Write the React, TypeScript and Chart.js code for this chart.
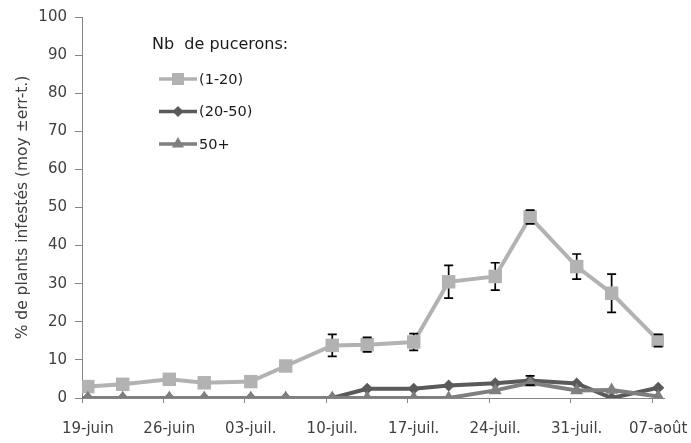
import React, { useEffect, useRef } from "react";
import { Chart, registerables } from "chart.js";

Chart.register(...registerables);

// Days counted from 19 June; sampling dates alternate 3- and 4-day gaps.
const sampleDays = [0, 3, 7, 10, 14, 17, 21, 24, 28, 31, 35, 38, 42, 45, 49];
const weekTickDays = [0, 7, 14, 21, 28, 35, 42, 49];
const weekTickLabels = ["19-juin", "26-juin", "03-juil.", "10-juil.", "17-juil.", "24-juil.", "31-juil.", "07-août"];

const seriesNames = ["(1-20)", "(20-50)", "50+"];
const pct1to20 = [3.0, 3.6, 4.9, 4.0, 4.3, 8.4, 13.8, 14.0, 14.7, 30.5, 31.9, 47.5, 34.5, 27.5, 15.1];
const err1to20 = [0, 0, 0, 0, 0, 0, 2.9, 1.9, 2.2, 4.3, 3.6, 1.8, 3.3, 5.0, 1.6];
const pct20to50 = [0, 0, 0, 0, 0, 0, 0, 2.4, 2.4, 3.3, 3.9, 4.6, 3.8, 0, 2.7];
const err20to50 = [0, 0, 0, 0, 0, 0, 0, 0, 0, 0, 0, 1.2, 0, 0, 0];
const pct50plus = [0, 0, 0, 0, 0, 0, 0, 0, 0, 0, 2.0, 4.0, 2.0, 2.1, 0.4];

const legendTitle = "Nb  de pucerons:";
const yTitle = "% de plants infestés (moy ±err-t.)";

const FONT = "'DejaVu Sans', sans-serif";
const AXIS_GREY = "#868686";
const TEXT_GREY = "#404040";

const colors = ["#b2b2b2", "#5a5a5a", "#7f7f7f"];

function toPoints(values: number[]) {
  return values.map((v, i) => ({ x: sampleDays[i], y: v }));
}

function markerPath(ctx: CanvasRenderingContext2D, style: string, x: number, y: number, r: number) {
  ctx.beginPath();
  if (style === "rect") {
    const s = r * Math.SQRT1_2;
    ctx.rect(x - s, y - s, 2 * s, 2 * s);
  } else if (style === "rectRot") {
    ctx.moveTo(x, y - r);
    ctx.lineTo(x + r, y);
    ctx.lineTo(x, y + r);
    ctx.lineTo(x - r, y);
    ctx.closePath();
  } else {
    const h = r * Math.sqrt(3) / 2;
    ctx.moveTo(x, y - r);
    ctx.lineTo(x + h, y + r / 2);
    ctx.lineTo(x - h, y + r / 2);
    ctx.closePath();
  }
}

// Vertical standard-error whiskers with caps, drawn around each marker.
const errorBarPlugin = {
  id: "errorBars",
  afterDatasetsDraw(chart: any) {
    const { ctx, scales } = chart;
    const ys = scales.y;
    chart.data.datasets.forEach((ds: any, di: number) => {
      if (!ds.errors) return;
      const meta = chart.getDatasetMeta(di);
      const gap = ds.markerHalf || 0;
      ctx.save();
      ctx.strokeStyle = "#000";
      ctx.lineWidth = 1.7;
      meta.data.forEach((pt: any, i: number) => {
        const e = ds.errors[i];
        if (!e) return;
        const v = ds.data[i].y;
        const x = pt.x;
        const yc = ys.getPixelForValue(v);
        const yt = ys.getPixelForValue(v + e);
        const yb = ys.getPixelForValue(Math.max(0, v - e));
        ctx.beginPath();
        if (yt < yc - gap) {
          ctx.moveTo(x, yt);
          ctx.lineTo(x, yc - gap);
        }
        if (yb > yc + gap) {
          ctx.moveTo(x, yc + gap);
          ctx.lineTo(x, yb);
        }
        ctx.moveTo(x - 4.5, yt);
        ctx.lineTo(x + 4.5, yt);
        ctx.moveTo(x - 4.5, yb);
        ctx.lineTo(x + 4.5, yb);
        ctx.stroke();
      });
      ctx.restore();
    });
  },
};

// Legend in the upper-left of the plot: title, then line-and-marker samples.
const legendPlugin = {
  id: "insetLegend",
  afterDraw(chart: any) {
    const { ctx, chartArea } = chart;
    const x0 = chartArea.left + 70;
    const y0 = chartArea.top + 28;
    ctx.save();
    ctx.fillStyle = "#1a1a1a";
    ctx.font = `16px ${FONT}`;
    ctx.textBaseline = "middle";
    ctx.textAlign = "left";
    ctx.fillText(legendTitle, x0, y0);
    chart.data.datasets.forEach((ds: any, i: number) => {
      const y = y0 + 34 + i * 32.5;
      const lx = x0 + 7;
      ctx.strokeStyle = ds.borderColor;
      ctx.lineWidth = 3.5;
      ctx.beginPath();
      ctx.moveTo(lx, y);
      ctx.lineTo(lx + 38, y);
      ctx.stroke();
      ctx.fillStyle = ds.borderColor;
      markerPath(ctx, ds.pointStyle, lx + 19, y, ds.legendRadius);
      ctx.fill();
      ctx.fillStyle = "#1a1a1a";
      ctx.font = `14.5px ${FONT}`;
      ctx.fillText(ds.label, lx + 40, y + 1);
    });
    ctx.restore();
  },
};

export default function App() {
  const canvasRef = useRef<HTMLCanvasElement | null>(null);

  useEffect(() => {
    document.body.style.margin = "0";
    const canvas = canvasRef.current;
    if (!canvas) return;

    const chart = new Chart(canvas, {
      type: "line",
      data: {
        datasets: [
          {
            label: seriesNames[0],
            data: toPoints(pct1to20),
            borderColor: colors[0],
            backgroundColor: colors[0],
            borderWidth: 4,
            pointStyle: "rect",
            pointRadius: 9.5,
            pointBorderWidth: 0,
            order: 2,
            errors: err1to20,
            markerHalf: 6.7,
            legendRadius: 8.5,
          } as any,
          {
            label: seriesNames[1],
            data: toPoints(pct20to50),
            borderColor: colors[1],
            backgroundColor: colors[1],
            borderWidth: 4,
            pointStyle: "rectRot",
            pointRadius: 6,
            pointBorderWidth: 0,
            order: 1,
            errors: err20to50,
            markerHalf: 5,
            legendRadius: 5.5,
          } as any,
          {
            label: seriesNames[2],
            data: toPoints(pct50plus),
            borderColor: colors[2],
            backgroundColor: colors[2],
            borderWidth: 4,
            pointStyle: "triangle",
            pointRadius: 7.5,
            pointBorderWidth: 0,
            order: 0,
            legendRadius: 7,
          } as any,
        ],
      },
      options: {
        animation: false,
        responsive: false,
        events: [],
        layout: { padding: { top: 15, right: 27, left: 0, bottom: 0 } },
        plugins: {
          legend: { display: false },
          tooltip: { enabled: false },
        },
        elements: { line: { tension: 0 } },
        scales: {
          x: {
            type: "linear",
            min: -0.5,
            max: 49.5,
            afterBuildTicks: (scale: any) => {
              // tick marks sit at day boundaries, labels shifted onto the dates
              scale.ticks = weekTickDays.map((d) => ({ value: d - 0.5 }));
            },
            afterFit: (scale: any) => {
              scale.height = 45;
              scale.paddingLeft = 0;
              scale.paddingRight = 0;
            },
            ticks: {
              autoSkip: false,
              maxRotation: 0,
              padding: 17,
              labelOffset: 5.8,
              color: TEXT_GREY,
              font: { family: FONT, size: 15 },
              callback: (v: any) => weekTickLabels[Math.round((Number(v) + 0.5) / 7)],
            },
            grid: {
              drawOnChartArea: false,
              drawTicks: true,
              tickLength: 5,
              color: AXIS_GREY,
            },
            border: { color: AXIS_GREY, width: 1 },
          },
          y: {
            min: 0,
            max: 100,
            afterFit: (scale: any) => {
              scale.width = 82;
            },
            ticks: {
              stepSize: 10,
              padding: 8,
              color: TEXT_GREY,
              font: { family: FONT, size: 15 },
            },
            grid: {
              drawOnChartArea: false,
              drawTicks: true,
              tickLength: 7,
              color: AXIS_GREY,
            },
            border: { color: AXIS_GREY, width: 1 },
            title: {
              display: true,
              text: yTitle,
              color: TEXT_GREY,
              font: { family: FONT, size: 15.5 },
              padding: { top: 14, bottom: 0 },
            },
          },
        },
      } as any,
      plugins: [errorBarPlugin, legendPlugin],
    });

    return () => chart.destroy();
  }, []);

  return (
    <div style={{ width: 691, height: 443 }}>
      <canvas ref={canvasRef} width={691} height={443} />
    </div>
  );
}
